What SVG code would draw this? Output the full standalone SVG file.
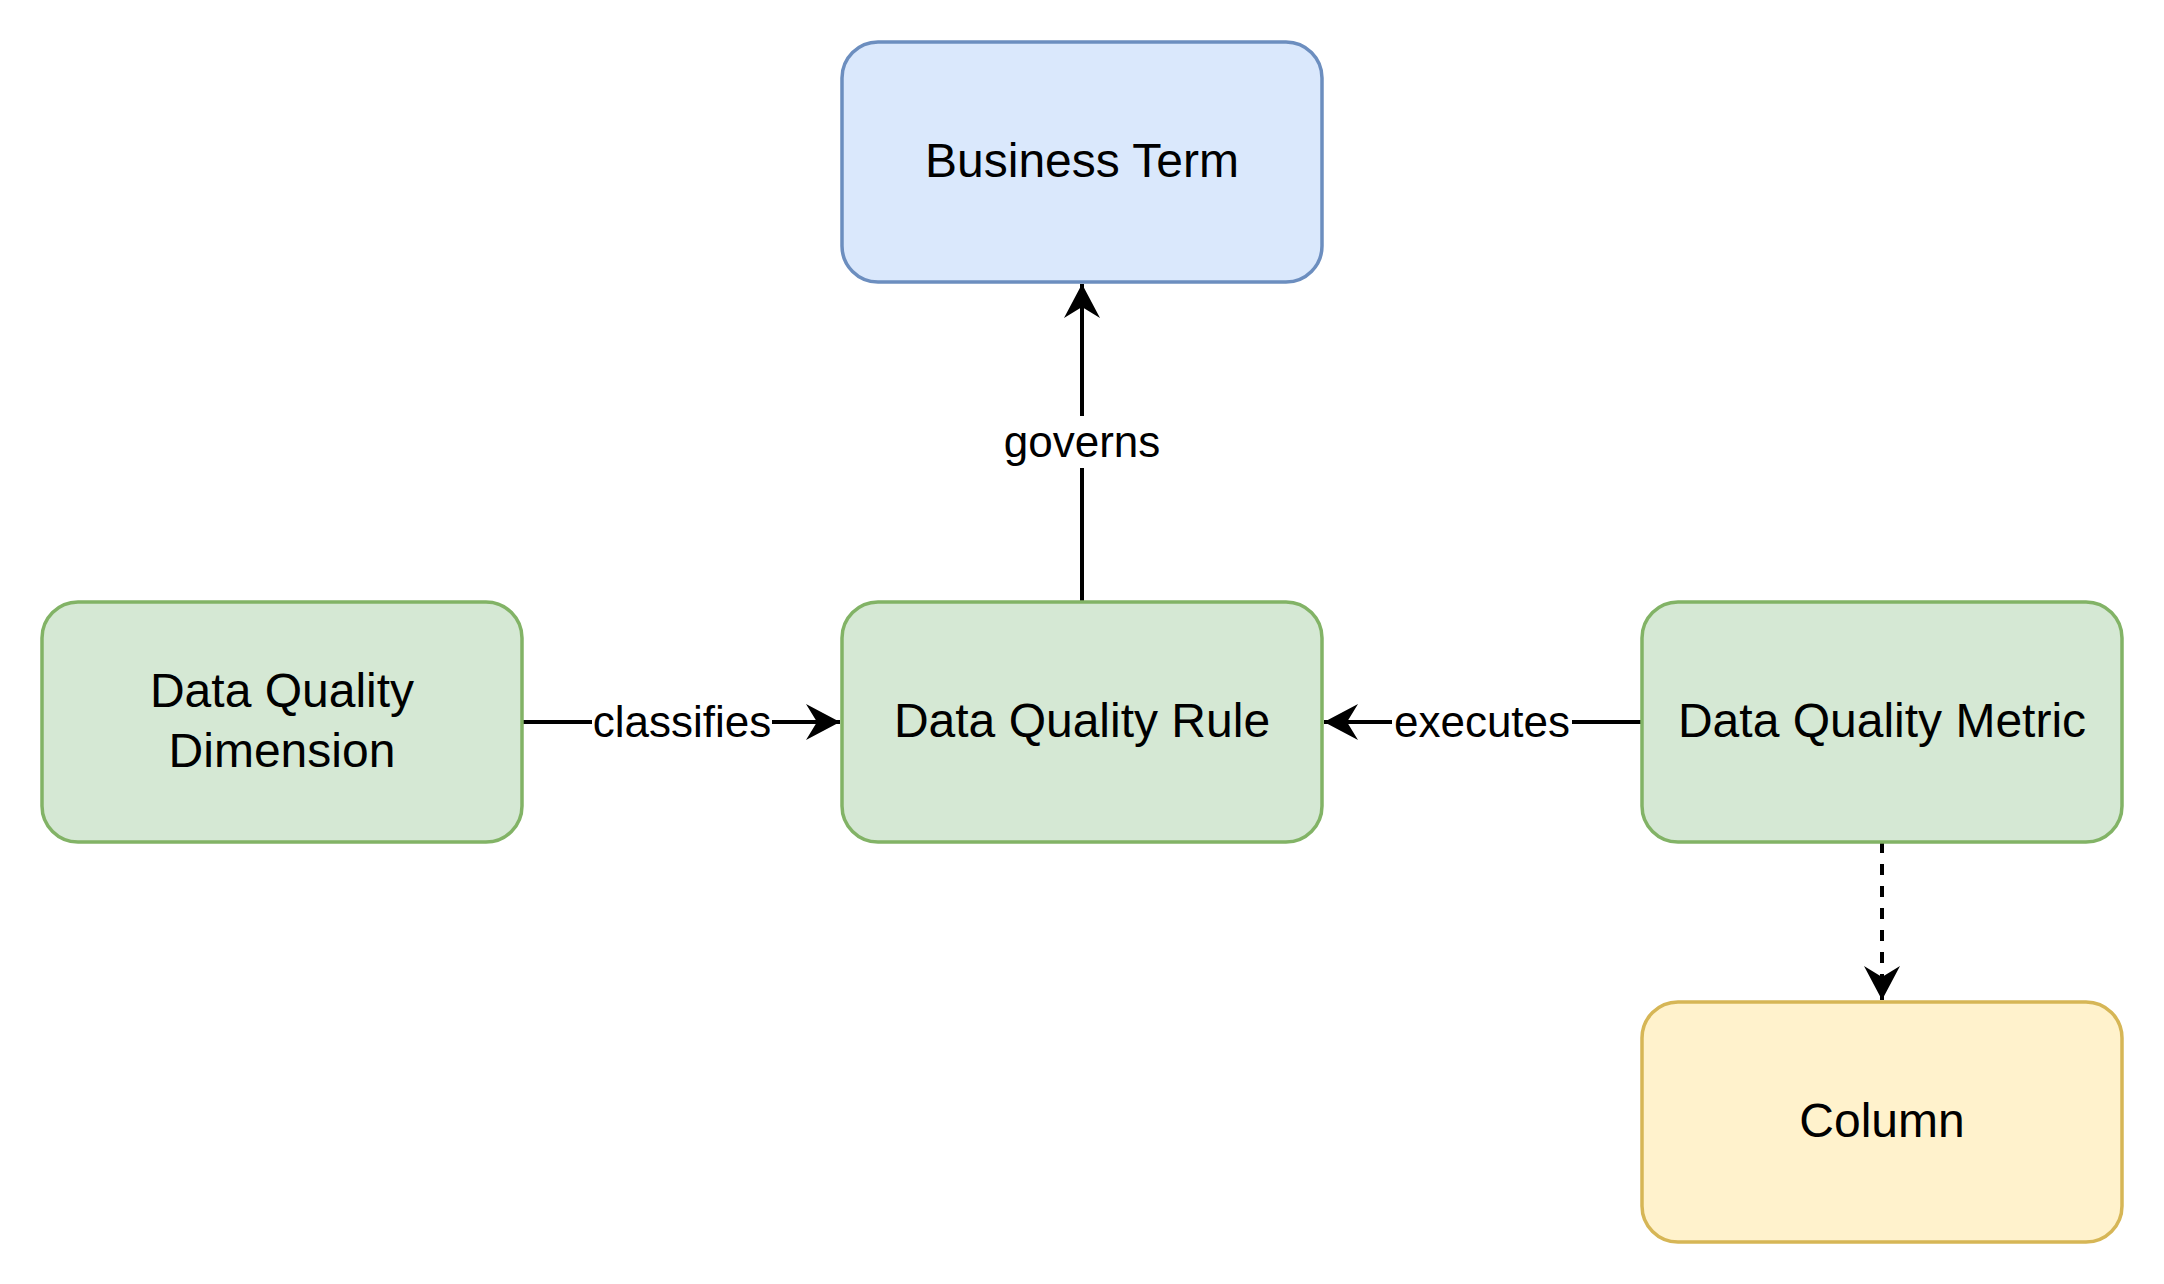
<svg xmlns="http://www.w3.org/2000/svg" width="2164" height="1284" viewBox="0 0 2164 1284">
<style>
.node rect{stroke-width:3.5}
.blue rect{fill:#dae8fc;stroke:#6c8ebf}
.green rect{fill:#d5e8d4;stroke:#82b366}
.yellow rect{fill:#fff2cc;stroke:#d6b656}
.nt{font-family:"Liberation Sans",Arial,sans-serif;font-size:48px;fill:#000;text-anchor:middle}
.et{font-family:"Liberation Sans",Arial,sans-serif;font-size:44px;fill:#000;text-anchor:middle}
.edge{stroke:#000;stroke-width:4;fill:none}
.dashed{stroke-dasharray:11 11}
.lbg{fill:#fff}
</style>
<defs>
<marker id="arrow" markerUnits="userSpaceOnUse" markerWidth="40" markerHeight="40" viewBox="-36 -20 38 40" refX="0" refY="0" orient="auto">
<path d="M0,0 L-34,-18 L-23,0 L-34,18 Z" fill="#000"/>
</marker>
</defs>
<rect width="2164" height="1284" fill="#fff"/>
<g id="connectors">
<g id="e-governs">
<line class="edge" x1="1082" y1="602" x2="1082" y2="284" marker-end="url(#arrow)"/>
<rect class="lbg" x="998" y="416" width="168" height="52"/>
<text class="et" x="1082" y="457">governs</text>
</g>
<g id="e-classifies">
<line class="edge" x1="522" y1="722" x2="840" y2="722" marker-end="url(#arrow)"/>
<rect class="lbg" x="592" y="696" width="180" height="52"/>
<text class="et" x="682" y="737">classifies</text>
</g>
<g id="e-executes">
<line class="edge" x1="1642" y1="722" x2="1324" y2="722" marker-end="url(#arrow)"/>
<rect class="lbg" x="1392" y="696" width="180" height="52"/>
<text class="et" x="1482" y="737">executes</text>
</g>
<g id="e-column">
<line class="edge dashed" x1="1882" y1="842" x2="1882" y2="1000" marker-end="url(#arrow)"/>
</g>
</g>
<g id="business-term" class="node blue">
<rect x="842" y="42" width="480" height="240" rx="36" ry="36"/>
<text class="nt" x="1082" y="177">Business Term</text>
</g>
<g id="dq-dimension" class="node green">
<rect x="42" y="602" width="480" height="240" rx="36" ry="36"/>
<text class="nt" x="282" y="707">Data Quality</text>
<text class="nt" x="282" y="767">Dimension</text>
</g>
<g id="dq-rule" class="node green">
<rect x="842" y="602" width="480" height="240" rx="36" ry="36"/>
<text class="nt" x="1082" y="737">Data Quality Rule</text>
</g>
<g id="dq-metric" class="node green">
<rect x="1642" y="602" width="480" height="240" rx="36" ry="36"/>
<text class="nt" x="1882" y="737">Data Quality Metric</text>
</g>
<g id="column" class="node yellow">
<rect x="1642" y="1002" width="480" height="240" rx="36" ry="36"/>
<text class="nt" x="1882" y="1137">Column</text>
</g>
</svg>
